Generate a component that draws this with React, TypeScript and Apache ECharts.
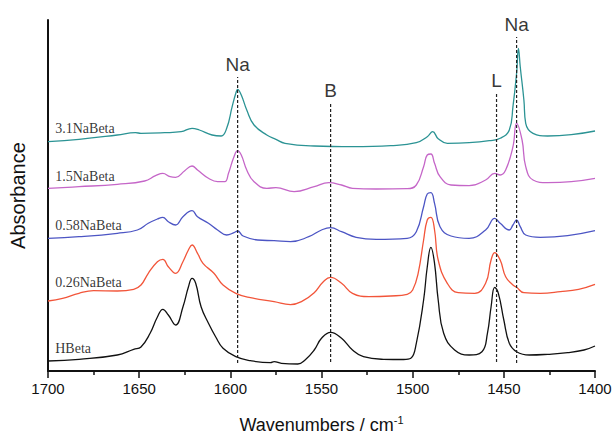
import React, { useEffect, useRef } from "react";
import * as echarts from "echarts";

const tickLabels = ["1400", "1450", "1500", "1550", "1600", "1650", "1700"];

const hbeta: [number, number][] = [
  [1700, 10], [1683, 11.7], [1662, 16], [1653, 21.7], [1649, 24], [1644, 37.7], [1640, 54], [1637, 61.7],
  [1634, 56], [1630, 46], [1626, 64], [1623, 84], [1621, 92.7], [1619, 87.7], [1616, 64], [1612, 47.7],
  [1608, 34], [1604, 22.7], [1597, 14.3], [1589, 10.3], [1578, 8.3], [1576, 9.3], [1572, 7.7], [1563, 7],
  [1559, 11], [1554, 21], [1550, 32.7], [1545, 38.7], [1539, 32.7], [1533, 21], [1527, 14.3], [1516, 11.7],
  [1505, 11.5], [1501, 12.7], [1498, 27.7], [1494, 71], [1492, 104], [1490, 123.7], [1488, 107.7],
  [1486, 71], [1483, 37.7], [1477, 21], [1469, 16], [1462, 19.3], [1459, 37.7], [1457, 64], [1455, 83.7],
  [1453, 77.7], [1450, 51], [1447, 27.7], [1443, 19.3], [1436, 16], [1426, 16.7], [1415, 18.3],
  [1406, 21], [1400, 25],
];

const na026: [number, number][] = [
  [1700, 70], [1692, 72.7], [1683, 77.7], [1675, 80.3], [1662, 80], [1653, 81.7], [1649, 86], [1645, 97.7],
  [1640, 109.3], [1637, 111.7], [1634, 104.3], [1630, 97.7], [1626, 109.3], [1623, 121], [1621, 126],
  [1618, 117.7], [1615, 107.7], [1609, 97.7], [1604, 86], [1597, 77.7], [1589, 73.3], [1576, 69.3],
  [1567, 66.3], [1561, 69.3], [1554, 78.3], [1549, 89.3], [1545, 93.7], [1539, 87.7], [1533, 77.7],
  [1524, 74.3], [1512, 75], [1503, 76.7], [1500, 81], [1497, 97.7], [1494, 131], [1492, 151],
  [1490, 153.7], [1488, 141], [1486, 111], [1481, 87.7], [1475, 78.3], [1466, 77.7], [1460, 87.7],
  [1457, 111], [1455, 118.3], [1452, 111], [1449, 94.3], [1445, 86], [1443, 83.7], [1439, 78.3],
  [1430, 77.7], [1419, 79.3], [1409, 81.7], [1400, 86.7],
];

const na058: [number, number][] = [
  [1700, 132.7], [1683, 134.3], [1662, 137.7], [1651, 141], [1645, 147.7], [1640, 152], [1637, 153.7],
  [1634, 149.3], [1630, 146], [1626, 154.3], [1621, 160.3], [1618, 154.3], [1612, 147.7], [1607, 141],
  [1602, 136], [1598, 138.3], [1596, 140], [1593, 135], [1585, 131], [1576, 130.3], [1567, 129.3],
  [1557, 134.3], [1550, 141], [1545, 143.3], [1539, 139.3], [1531, 133.7], [1520, 131.7], [1503, 132.7],
  [1498, 139.3], [1494, 164.3], [1492, 177], [1490, 178.3], [1488, 167.7], [1485, 144.3], [1479, 135],
  [1469, 132.7], [1460, 141], [1455, 152.7], [1452, 147.7], [1447, 141], [1445, 146], [1443, 151],
  [1441, 144.3], [1438, 136], [1430, 133.7], [1415, 135.3], [1400, 140.3],
];

const na15: [number, number][] = [
  [1700, 182.7], [1683, 184.3], [1662, 186.7], [1647, 190], [1641, 195.3], [1637, 197.7], [1633, 194.3],
  [1630, 193.7], [1625, 200.3], [1621, 205], [1618, 201], [1612, 192.7], [1607, 189.3], [1603, 189.3],
  [1601, 197.7], [1598, 214.3], [1596, 220.3], [1594, 216], [1591, 201], [1587, 189.3], [1580, 182.7],
  [1575, 183.3], [1565, 179.3], [1554, 184.3], [1546, 188.3], [1539, 186], [1533, 182.7], [1520, 182],
  [1503, 182.3], [1498, 186], [1494, 204.3], [1492, 216], [1490, 217], [1488, 207.7], [1485, 194.3],
  [1479, 186], [1469, 185.3], [1460, 191], [1455, 197.7], [1452, 196], [1449, 201], [1445, 224.3],
  [1443, 247.7], [1440, 231], [1438, 204.3], [1434, 191], [1426, 188.3], [1413, 189.3], [1400, 192.7],
];

const na31: [number, number][] = [
  [1700, 229.3], [1683, 231.7], [1662, 236], [1652, 238.3], [1649, 237.7], [1636, 238.3], [1627, 239.3],
  [1621, 242.7], [1617, 241], [1610, 236], [1605, 235], [1602, 242.7], [1599, 264.3], [1597, 277.7],
  [1596, 281.7], [1594, 276], [1591, 261], [1587, 246], [1580, 236], [1575, 231.7], [1570, 227.7],
  [1554, 225], [1533, 224.3], [1512, 225.3], [1498, 228.3], [1492, 234.3], [1489, 239.3], [1486, 232.3],
  [1481, 227.7], [1469, 228.3], [1458, 230.3], [1452, 232.7], [1447, 241], [1445, 264.3], [1443, 297.7],
  [1442, 322.7], [1441, 304.3], [1439, 271], [1438, 247.7], [1434, 237.7], [1426, 235], [1413, 236.3],
  [1400, 240],
];

const sampleNames = ["HBeta", "0.26NaBeta", "0.58NaBeta", "1.5NaBeta", "3.1NaBeta"];
const sampleLabelY = [23, 89, 146, 195, 243];
const sampleLabelX = 1698.5;

const peakNames = ["Na", "B", "L", "Na"];
const peakPositions = [1596, 1545, 1454, 1443];
const peakLineBottom = [8, 9, 9, 8];
const peakLineTop = [294, 268, 278, 334];

const colors = ["#111111", "#f2553a", "#4c55c4", "#c566c8", "#2b9394"];
const spectra = [hbeta, na026, na058, na15, na31];

export default function App() {
  const ref = useRef<HTMLDivElement>(null);
  useEffect(() => {
    if (!ref.current) return;
    const chart = echarts.init(ref.current, undefined, { renderer: "svg" });
    const series: any[] = [];
    spectra.forEach((d, i) => {
      series.push({
        type: "line",
        name: sampleNames[i],
        data: d.slice().reverse(),
        showSymbol: false,
        smooth: 0.45,
        lineStyle: { color: colors[i], width: 1.3 },
        z: 3,
      });
    });
    peakPositions.forEach((w, i) => {
      series.push({
        type: "line",
        data: [
          [w, peakLineBottom[i]],
          [w, peakLineTop[i]],
        ],
        showSymbol: false,
        lineStyle: { color: "#222", width: 1.2, type: [3, 2] },
        z: 4,
      });
    });
    series.push({
      type: "scatter",
      symbolSize: 1,
      itemStyle: { color: "rgba(0,0,0,0)" },
      data: peakPositions.map((w, i) => ({ value: [w, peakLineTop[i]], name: peakNames[i] })),
      label: {
        show: true,
        position: "top",
        distance: 3,
        formatter: (p: any) => p.name,
        fontFamily: "Liberation Sans, Arial, sans-serif",
        fontSize: 19,
        color: "#000",
      },
      z: 5,
    });
    series.push({
      type: "scatter",
      symbolSize: 1,
      itemStyle: { color: "rgba(0,0,0,0)" },
      data: sampleNames.map((n, i) => ({ value: [sampleLabelX, sampleLabelY[i]], name: n })),
      label: {
        show: true,
        position: "right",
        distance: 4,
        formatter: (p: any) => p.name,
        fontFamily: "Liberation Serif, Times New Roman, serif",
        fontSize: 14,
        color: "#000",
      },
      z: 5,
    });

    chart.setOption({
      animation: false,
      grid: { left: 48, right: 17, top: 20, bottom: 66, containLabel: false, outerBoundsMode: "none" },
      xAxis: {
        type: "value",
        min: 1400,
        max: 1700,
        interval: 50,
        inverse: true,
        name: "Wavenumbers / cm{sup|-1}",
        nameLocation: "middle",
        nameGap: 43,
        nameTextStyle: {
          fontFamily: "Liberation Sans, Arial, sans-serif",
          fontSize: 18,
          color: "#111",
          rich: {
            sup: { fontSize: 11, verticalAlign: "top", padding: [0, 0, 10, 0], color: "#111", fontFamily: "Liberation Sans, Arial, sans-serif" },
          },
        },
        axisLine: { show: true, lineStyle: { color: "#111", width: 2 } },
        axisTick: { show: true, length: 7, inside: false, lineStyle: { color: "#111", width: 1.5 } },
        minorTick: { show: true, splitNumber: 2, length: 4, lineStyle: { color: "#111", width: 1.5 } },
        axisLabel: {
          fontFamily: "Liberation Sans, Arial, sans-serif",
          fontSize: 15,
          color: "#111",
          margin: 10,
          formatter: (v: number) => tickLabels.find((t) => Number(t) === v) ?? "",
        },
        splitLine: { show: false },
      },
      yAxis: {
        type: "value",
        min: 0,
        max: 351,
        name: "Absorbance",
        nameLocation: "middle",
        nameGap: 20,
        nameTextStyle: {
          fontFamily: "Liberation Sans, Arial, sans-serif",
          fontSize: 20,
          color: "#111",
        },
        axisLine: { show: true, lineStyle: { color: "#111", width: 2 } },
        axisTick: { show: false },
        axisLabel: { show: false },
        splitLine: { show: false },
      },
      series,
    });
    return () => chart.dispose();
  }, []);
  return <div ref={ref} style={{ width: 612, height: 437, position: "absolute", left: 0, top: 0, background: "#fff" }} />;
}
